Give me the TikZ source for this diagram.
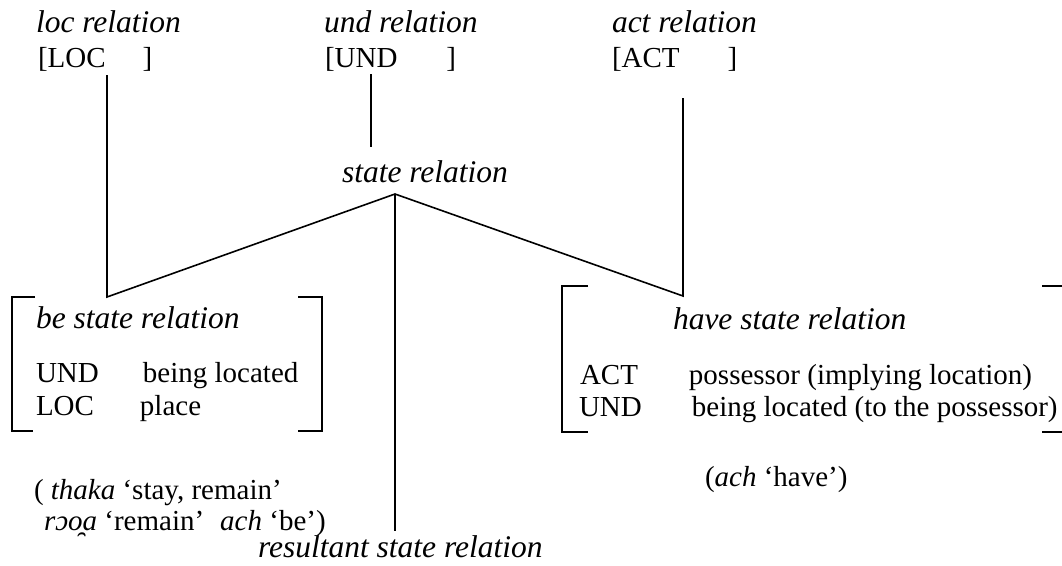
\documentclass[tikz,border=0pt]{standalone}
\usepackage{fontspec}
\setmainfont{Liberation Serif}
\newcommand\txtsize{\fontsize{29}{33}\selectfont}
\newcommand\relsize{\fontsize{31.5}{36}\selectfont}

\begin{document}
\begin{tikzpicture}[x=1pt,y=-1pt]
  \tikzset{
    txt/.style={anchor=base west, inner sep=0pt, outer sep=0pt, font=\txtsize},
    rel/.style={txt, font=\relsize\itshape},
    link/.style={line width=1.6pt},
  }
  \useasboundingbox (0,0) rectangle (1062,565);

  % relations at the top
  \node[rel] (locrel) at (36,32) {loc relation};
  \node[txt] (locarg) at (38,67) {[LOC\hspace{37pt}]};
  \node[rel] (undrel) at (324,32) {und relation};
  \node[txt] (undarg) at (325,67) {[UND\hspace{49pt}]};
  \node[rel] (actrel) at (612,32) {act relation};
  \node[txt] (actarg) at (612,67) {[ACT\hspace{48pt}]};
  \node[rel] (staterel) at (342,182) {state relation};

  \coordinate (loctop) at (107,75);
  \coordinate (locfoot) at (107,297);
  \coordinate (undtop) at (371,74);
  \coordinate (undfoot) at (371,147);
  \coordinate (acttop) at (683,98);
  \coordinate (actfoot) at (683,296);
  \coordinate (apex) at (395,194);
  \coordinate (resfoot) at (395,531);

  \draw[link] (loctop) -- (locfoot) -- (apex) -- (actfoot) -- (acttop);
  \draw[link] (undtop) -- (undfoot);
  \draw[link] (apex) -- (resfoot);

  % be state relation
  \draw[link] (35,297) -| (12,431) -- (33,431);
  \draw[link] (298,297) -| (322,431) -- (298,431);
  \node[rel] (berel) at (36,328) {be state relation};
  \node[txt] (beund) at (36,382) {\makebox[107pt][l]{UND}being located};
  \node[txt] (beloc) at (36,415) {\makebox[104pt][l]{LOC}place};
  \node[txt] (beex1) at (34,499) {( \textit{thaka} `stay, remain'};
  \node[txt] (beex2) at (44,530) {\textit{rɔo̯a} `remain'\hspace{16pt}\textit{ach} `be')};

  % have state relation
  \draw[link] (588,286) -| (562,432) -- (588,432);
  \draw[link] (1042,286) -| (1066,432) -- (1042,432);
  \node[rel] (haverel) at (673,329) {have state relation};
  \node[txt] (haveact) at (580,384) {\makebox[109pt][l]{ACT}possessor (implying location)};
  \node[txt] (haveund) at (579,416) {\makebox[113pt][l]{UND}being located (to the possessor)};
  \node[txt] (haveex) at (705,486) {(\textit{ach} `have')};

  \node[rel] (resrel) at (258,557) {resultant state relation};
\end{tikzpicture}
\end{document}
